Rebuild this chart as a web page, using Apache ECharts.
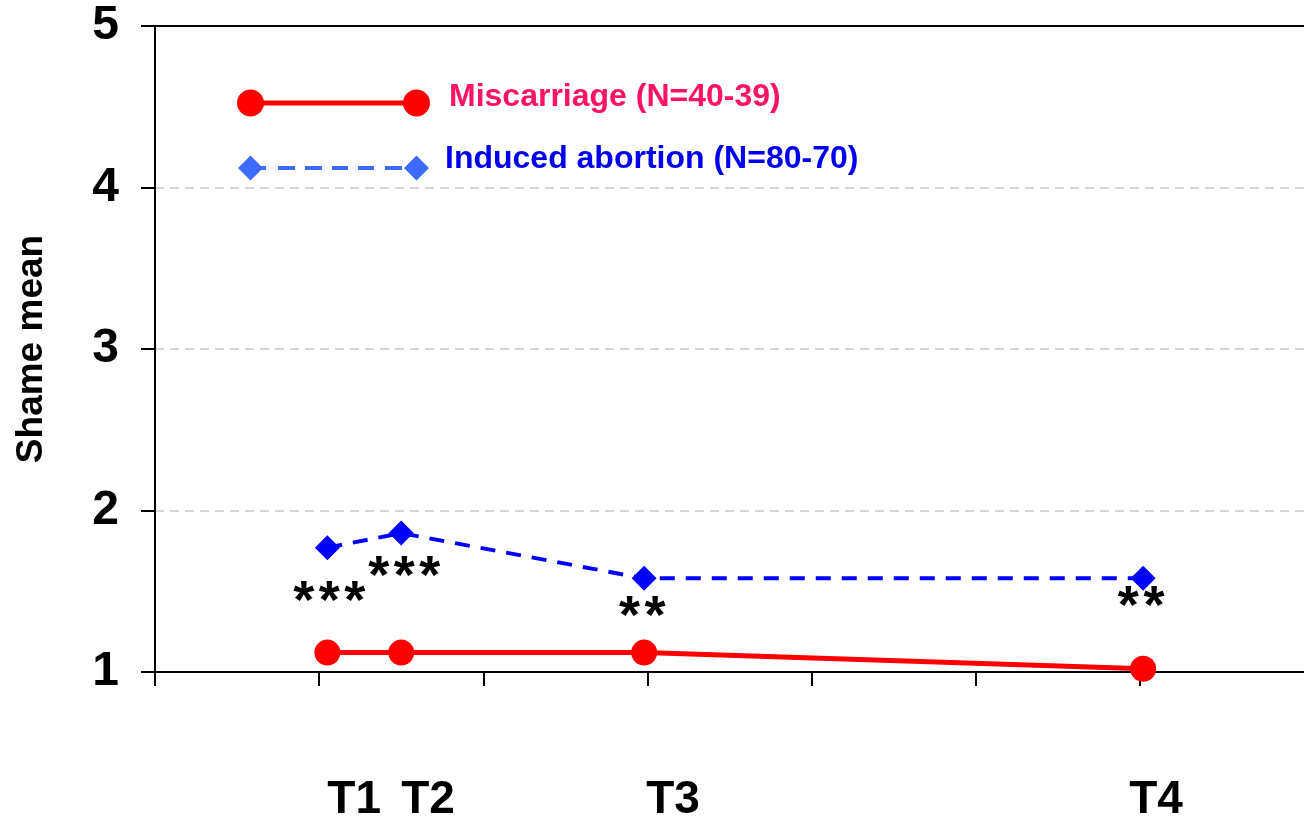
<!DOCTYPE html>
<html><head><meta charset="utf-8">
<script src="https://cdn.jsdelivr.net/npm/echarts@6/dist/echarts.min.js"></script>
<style>html,body{margin:0;padding:0;background:#fff}#c{width:1304px;height:819px}</style>
</head><body><div id="c"></div>
<script>
// ---- data ----
const timeLabels = ['T1', 'T2', 'T3', 'T4'];
const timeX = [1.05, 1.5, 2.98, 6.02];
const miscarriage = [1.12, 1.12, 1.12, 1.02];
const abortion = [1.77, 1.86, 1.58, 1.58];
const significance = ['***', '***', '**', '**'];
const xTickValues = [0, 1, 2, 3, 4, 5, 6];
const seriesNames = ['Miscarriage (N=40-39)', 'Induced abortion (N=80-70)'];
const yAxisName = 'Shame mean';

// ---- styling helpers (not data) ----
const sigOffsets = [[2, 55], [3, 45], [-2, 40], [-2, 30]];
const timeLabelShift = [0, 0, 2, -14];
const FONT = '"Liberation Sans", Arial, sans-serif';

// legend icons: bbox 193 x 49, the visible sample sits lower to leave the text higher
const redIcon = 'path://M0 -17 L0 -17 M193 32 L193 32 ' +
  'M0 13.5 A13.5 13.5 0 1 1 27 13.5 A13.5 13.5 0 1 1 0 13.5 Z ' +
  'M13.5 11 L179.5 11 L179.5 16 L13.5 16 Z ' +
  'M166 13.5 A13.5 13.5 0 1 1 193 13.5 A13.5 13.5 0 1 1 166 13.5 Z';
function dashSeg(a, b) { return 'M' + a + ' 11.5 L' + b + ' 11.5 L' + b + ' 15.5 L' + a + ' 15.5 Z '; }
const blueIcon = 'path://M0 -20 L0 -20 M193 29 L193 29 ' +
  'M1 13.5 L13.5 1 L26 13.5 L13.5 26 Z ' +
  dashSeg(24, 29) + dashSeg(41, 58) + dashSeg(68, 85) + dashSeg(95, 111) + dashSeg(121, 137) + dashSeg(148, 165) +
  'M167 13.5 L179.5 1 L192 13.5 L179.5 26 Z';

const chart = echarts.init(document.getElementById('c'), null, {renderer: 'canvas'});

const option = {
  backgroundColor: '#ffffff',
  animation: false,
  grid: {left: 155, right: -2, top: 26, bottom: 147},
  legend: {
    orient: 'vertical',
    left: 237,
    top: 72.5,
    padding: 0,
    itemWidth: 193,
    itemHeight: 49,
    itemGap: 13,
    selectedMode: false,
    data: [
      {name: seriesNames[0], icon: redIcon, itemStyle: {color: '#ff0000', borderWidth: 0},
       textStyle: {color: '#ff1464', fontSize: 32, fontWeight: 'bold', fontFamily: FONT, padding: [0, 0, 0, 14]}},
      {name: seriesNames[1], icon: blueIcon, itemStyle: {color: '#3d6bff', borderWidth: 0},
       textStyle: {color: '#0000ee', fontSize: 32, fontWeight: 'bold', fontFamily: FONT, padding: [0, 0, 0, 10]}}
    ]
  },
  xAxis: [{
    type: 'value', min: 0, max: 7, interval: 1,
    axisLine: {show: true, onZero: false, lineStyle: {color: '#000', width: 2}},
    axisTick: {show: true, inside: false, length: 14, customValues: xTickValues, lineStyle: {color: '#000', width: 2}},
    axisLabel: {show: false},
    splitLine: {show: false}
  }, {
    type: 'value', min: 0, max: 7, position: 'top',
    axisLine: {show: true, onZero: false, lineStyle: {color: '#000', width: 2}},
    axisTick: {show: false}, axisLabel: {show: false}, splitLine: {show: false}
  }],
  yAxis: {
    type: 'value', min: 1, max: 5, interval: 1,
    name: yAxisName, nameLocation: 'middle', nameRotate: 90, nameGap: 105,
    nameTextStyle: {fontSize: 37, fontWeight: 'bold', color: '#000', fontFamily: FONT},
    axisLine: {show: true, onZero: false, lineStyle: {color: '#000', width: 2}},
    axisTick: {show: true, inside: false, length: 14, lineStyle: {color: '#000', width: 2}},
    axisLabel: {show: true, margin: 36, fontSize: 48, fontWeight: 'bold', color: '#000', fontFamily: FONT},
    splitLine: {show: true, lineStyle: {color: '#c8c8c8', width: 1.5, type: [9, 6]}}
  },
  series: [{
    name: seriesNames[0], type: 'line',
    data: timeX.map((x, i) => [x, miscarriage[i]]),
    symbol: 'circle', symbolSize: 26,
    itemStyle: {color: '#ff0000', borderWidth: 0},
    lineStyle: {color: '#ff0000', width: 5},
    z: 3
  }, {
    name: seriesNames[1], type: 'line',
    data: timeX.map((x, i) => ({
      value: [x, abortion[i]],
      label: {show: true, position: 'inside', formatter: significance[i].split('').join('\u200A'), offset: sigOffsets[i],
              fontSize: 54, fontWeight: 'bold', color: '#000', fontFamily: FONT}
    })),
    symbol: 'diamond', symbolSize: 25,
    itemStyle: {color: '#0000ff', borderWidth: 0},
    lineStyle: {color: '#0000ff', width: 4, type: [15, 11]},
    z: 3
  }]
};
chart.setOption(option);

const tGraphics = timeLabels.map((t, i) => {
  const px = chart.convertToPixel({xAxisIndex: 0}, timeX[i]);
  return {
    type: 'text', x: px + timeLabelShift[i], y: 800,
    style: {text: t, fontSize: 46, fontWeight: 'bold', fontFamily: FONT, fill: '#000', align: 'left', verticalAlign: 'middle'}
  };
});
chart.setOption({graphic: tGraphics});
</script>
</body></html>
